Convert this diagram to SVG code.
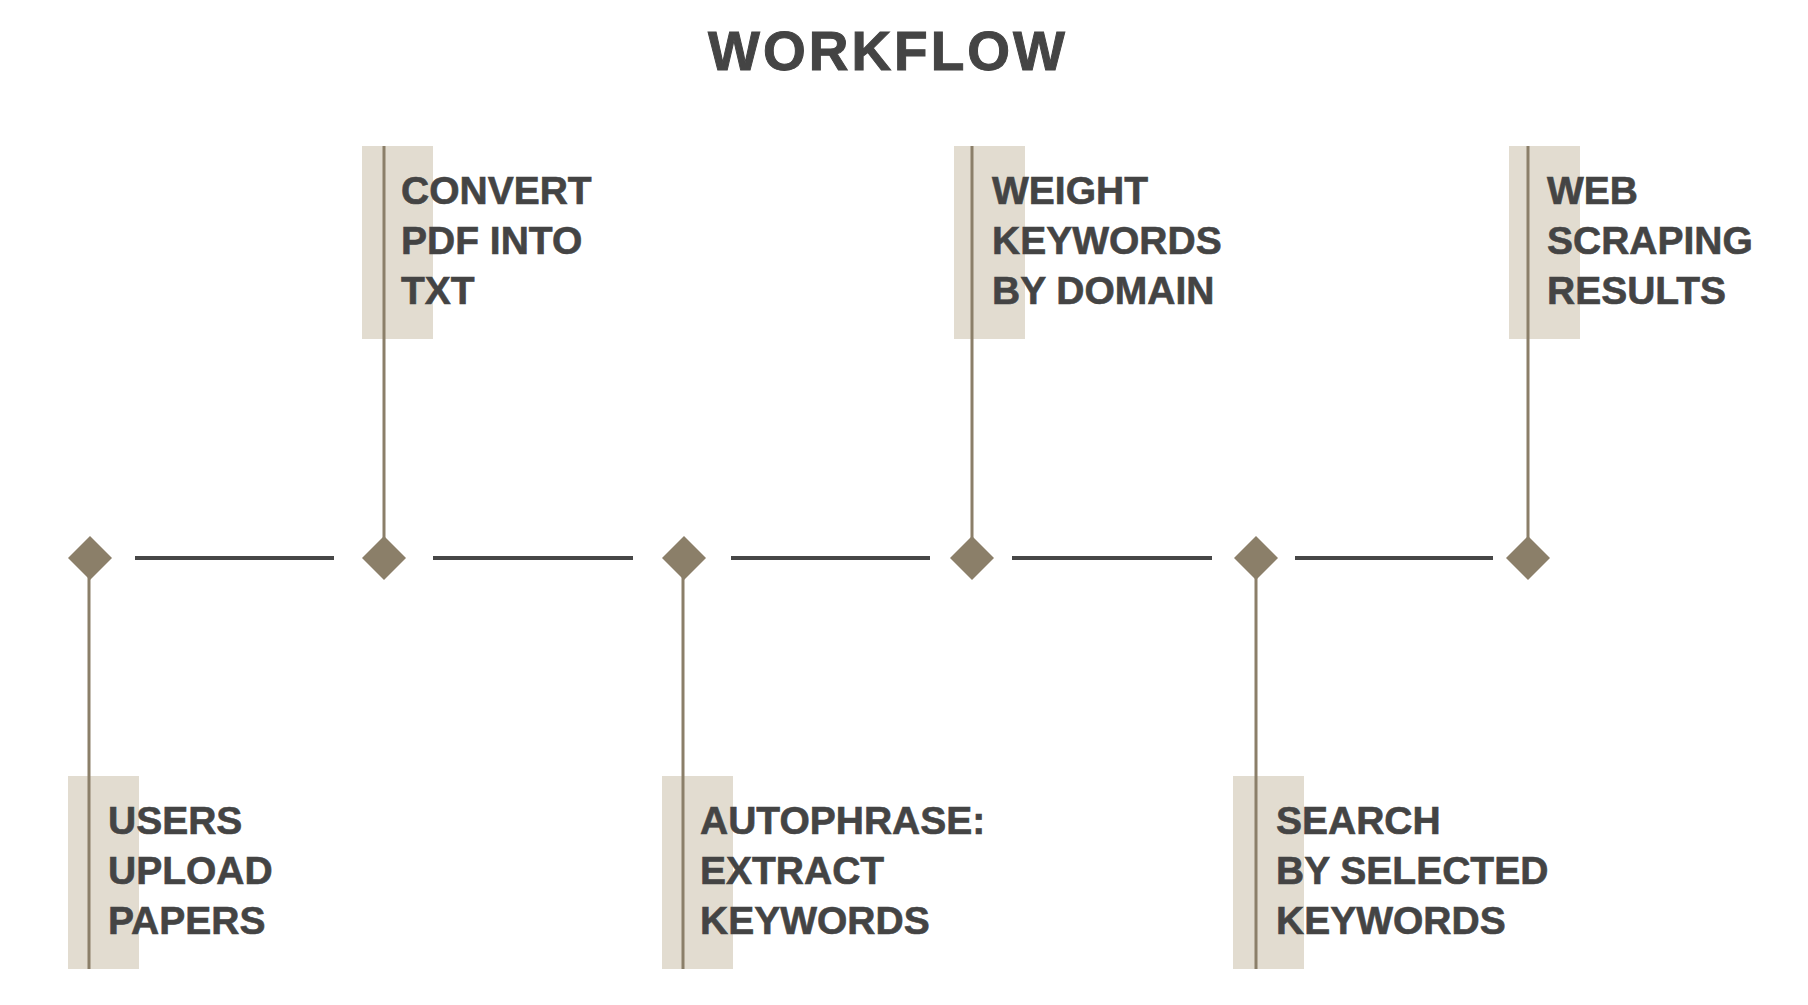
<svg xmlns="http://www.w3.org/2000/svg" width="1808" height="1005" viewBox="0 0 1808 1005">
<style>
.bg{fill:#e2dcd0}
.stem{stroke:#8b7f69;stroke-width:3;fill:none}
.dia{fill:#8b7f69}
.conn{stroke:#474747;stroke-width:4;fill:none}
.lbl{font-family:"Liberation Sans",Arial,sans-serif;font-weight:bold;font-size:39px;fill:#444444;stroke:#444444;stroke-width:0.6}
.title{font-family:"Liberation Sans",Arial,sans-serif;font-weight:bold;font-size:55px;letter-spacing:3px;fill:#444444;stroke:#444444;stroke-width:1}
</style>
<defs>
<polygon id="d" points="0,-22 22,0 0,22 -22,0"/>
</defs>
<rect width="1808" height="1005" fill="#ffffff"/>
<text class="title" x="888" y="70" text-anchor="middle">WORKFLOW</text>
<g id="connectors">
<line class="conn" x1="135" y1="558" x2="334" y2="558"/>
<line class="conn" x1="433" y1="558" x2="633" y2="558"/>
<line class="conn" x1="731" y1="558" x2="930" y2="558"/>
<line class="conn" x1="1012" y1="558" x2="1212" y2="558"/>
<line class="conn" x1="1295" y1="558" x2="1493" y2="558"/>
</g>
<g id="node1">
<rect class="bg" x="68" y="776" width="71" height="193"/>
<line class="stem" x1="89" y1="558" x2="89" y2="969"/>
<use href="#d" class="dia" x="90" y="558"/>
<text class="lbl"><tspan x="108" y="834">USERS</tspan><tspan x="108" y="884">UPLOAD</tspan><tspan x="108" y="934">PAPERS</tspan></text>
</g>
<g id="node2">
<rect class="bg" x="362" y="146" width="71" height="193"/>
<line class="stem" x1="384" y1="146" x2="384" y2="558"/>
<use href="#d" class="dia" x="384" y="558"/>
<text class="lbl"><tspan x="401" y="204">CONVERT</tspan><tspan x="401" y="254">PDF INTO</tspan><tspan x="401" y="304">TXT</tspan></text>
</g>
<g id="node3">
<rect class="bg" x="662" y="776" width="71" height="193"/>
<line class="stem" x1="683" y1="558" x2="683" y2="969"/>
<use href="#d" class="dia" x="684" y="558"/>
<text class="lbl"><tspan x="700" y="834">AUTOPHRASE:</tspan><tspan x="700" y="884">EXTRACT</tspan><tspan x="700" y="934">KEYWORDS</tspan></text>
</g>
<g id="node4">
<rect class="bg" x="954" y="146" width="71" height="193"/>
<line class="stem" x1="972" y1="146" x2="972" y2="558"/>
<use href="#d" class="dia" x="972" y="558"/>
<text class="lbl"><tspan x="992" y="204">WEIGHT</tspan><tspan x="992" y="254">KEYWORDS</tspan><tspan x="992" y="304">BY DOMAIN</tspan></text>
</g>
<g id="node5">
<rect class="bg" x="1233" y="776" width="71" height="193"/>
<line class="stem" x1="1256" y1="558" x2="1256" y2="969"/>
<use href="#d" class="dia" x="1256" y="558"/>
<text class="lbl"><tspan x="1276" y="834">SEARCH</tspan><tspan x="1276" y="884">BY SELECTED</tspan><tspan x="1276" y="934">KEYWORDS</tspan></text>
</g>
<g id="node6">
<rect class="bg" x="1509" y="146" width="71" height="193"/>
<line class="stem" x1="1528" y1="146" x2="1528" y2="558"/>
<use href="#d" class="dia" x="1528" y="558"/>
<text class="lbl"><tspan x="1547" y="204">WEB</tspan><tspan x="1547" y="254">SCRAPING</tspan><tspan x="1547" y="304">RESULTS</tspan></text>
</g>
</svg>
